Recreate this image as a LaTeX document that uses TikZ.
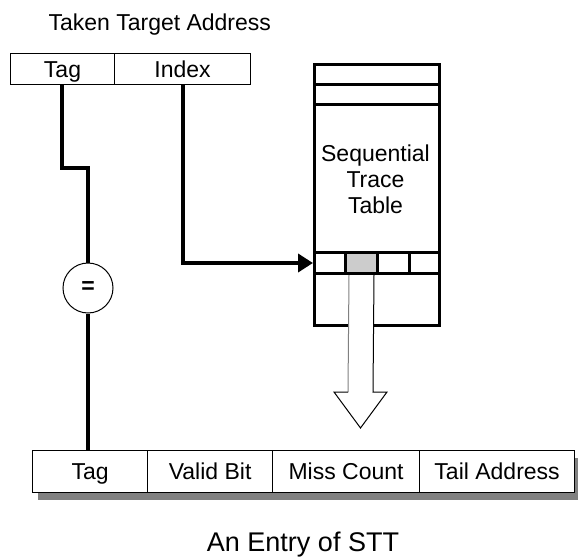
\documentclass[tikz,border=0pt]{standalone}
\usepackage{fontspec}
\setmainfont{Liberation Sans}
\usetikzlibrary{arrows.meta}

\tikzset{
  lbl/.style={font=\fontsize{23}{26}\selectfont},
  boxtext/.style={lbl, text height=16.5pt, text depth=0pt},
  fieldbox/.style={draw, line width=1pt, rectangle, inner sep=0pt, anchor=north west, boxtext},
  entrybox/.style={draw, line width=1.2pt, fill=white, rectangle, inner sep=0pt, anchor=north west, boxtext},
  tabcell/.style={draw, line width=3pt, rectangle, inner sep=0pt, anchor=north west},
  wire/.style={line width=4pt},
}

\begin{document}
\begin{tikzpicture}[x=1pt, y=-1pt]
  \useasboundingbox (0,0) rectangle (579,557);

  % address split into tag and index
  \node[lbl, anchor=base west] (title) at (45,30) {Taken Target Address};
  \node[fieldbox, minimum width=104pt, minimum height=31pt] (tag) at (10,53) {Tag};
  \node[fieldbox, minimum width=136pt, minimum height=31pt] (index) at (114,53) {Index};

  % sequential trace table
  \node[tabcell, minimum width=125pt, minimum height=261pt] (stt) at (313,63) {};
  \draw[line width=3pt] (313,84) -- (438,84);
  \draw[line width=3pt] (313,104) -- (438,104);
  \node[lbl, align=center] (sttlabel) at (375.5,179) {Sequential\\Trace\\Table};
  \node[tabcell, minimum width=31pt, minimum height=21pt] (c1) at (313,251) {};
  \node[tabcell, fill={rgb,255:red,204;green,204;blue,204}, minimum width=32pt, minimum height=21pt] (c2) at (344,251) {};
  \node[tabcell, minimum width=32pt, minimum height=21pt] (c3) at (376,251) {};
  \node[tabcell, minimum width=30pt, minimum height=21pt] (c4) at (408,251) {};

  % STT entry with drop shadow
  \fill[gray] (38,458) rectangle (578,500);
  \node[entrybox, minimum width=115pt, minimum height=42pt] (etag) at (32,450) {Tag};
  \node[entrybox, minimum width=125pt, minimum height=42pt] (valid) at (147,450) {Valid Bit};
  \node[entrybox, minimum width=147pt, minimum height=42pt] (miss) at (272,450) {Miss Count};
  \node[entrybox, minimum width=155pt, minimum height=42pt] (tail) at (419,450) {Tail Address};

  % comparator
  \node[draw, circle, line width=1pt, minimum size=50pt, inner sep=0pt,
        font=\fontsize{23}{27}\selectfont\bfseries] (eq) at (88,288) {=};

  % connectors
  \draw[wire] (tag.south -| 62,0) -- (62,168) -- (88,168) -- (eq.north);
  \draw[wire] (eq.south) -- (etag.north -| eq.south);
  \draw[wire, -{Triangle[length=15pt, width=18pt]}] (index.south -| 183,0) |- (c1.west);

  % hollow arrow out of the selected cell
  \coordinate (tip) at (360.5,428);
  \fill[white] ([xshift=-12.5pt]c2.south) -- (348,392) -- (334,392)
    -- (tip) -- (387,392) -- (373,392) -- ([xshift=12.5pt]c2.south) -- cycle;
  \draw[gray, line width=1pt] ([xshift=-12.5pt]c2.south) -- (348,392);
  \draw[line width=1pt] (348,392) -- (334,392) -- (tip) -- (387,392) -- (373,392)
    -- ([xshift=12.5pt]c2.south);

  % caption
  \node[font=\fontsize{27}{32}\selectfont, anchor=base] (caption) at (303,551) {An Entry of STT};
\end{tikzpicture}
\end{document}
